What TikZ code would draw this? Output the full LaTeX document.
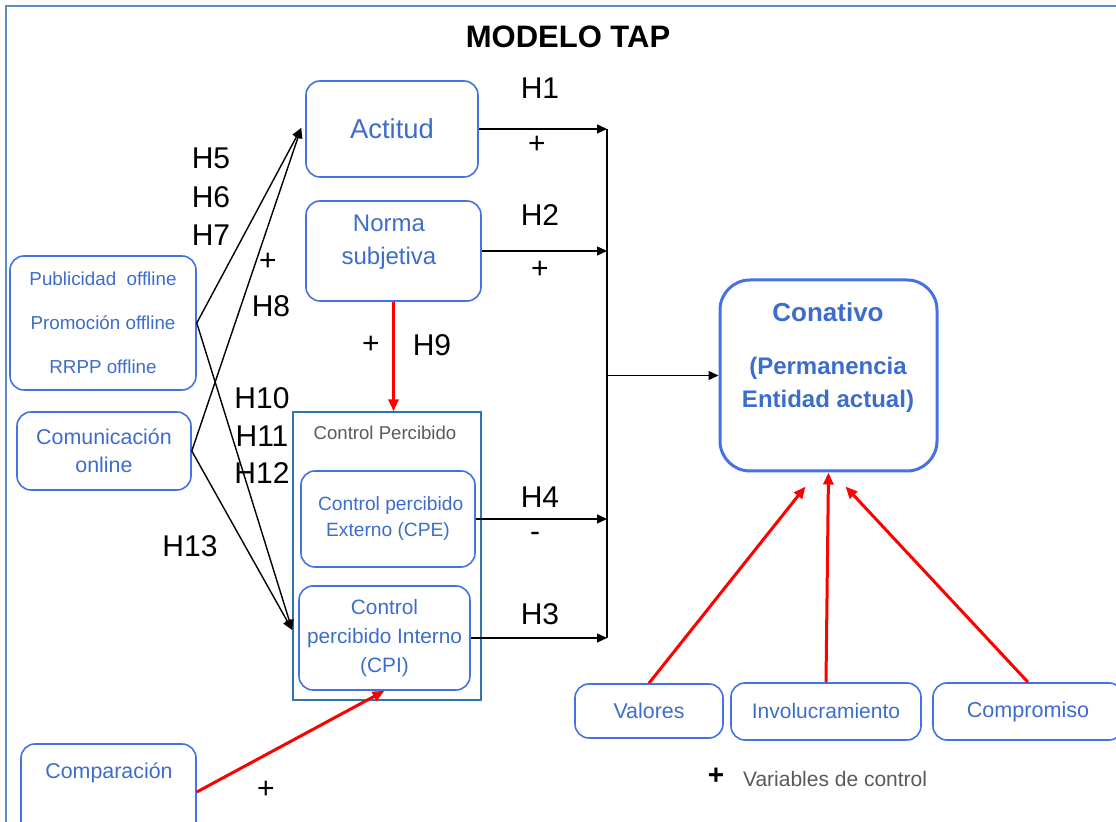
\documentclass[tikz,border=0pt]{standalone}
\usepackage{fontspec}
\setmainfont{Liberation Sans}
\usetikzlibrary{arrows.meta,calc,positioning}
\definecolor{boxblue}{RGB}{68,114,228}
\definecolor{textblue}{RGB}{60,108,205}
\definecolor{framecyan}{RGB}{46,117,182}
\definecolor{outerblue}{RGB}{94,140,198}
\definecolor{labelgray}{RGB}{89,89,89}
\definecolor{hypred}{RGB}{255,0,0}
\tikzset{
    % Construct boxes
    construct/.style={
        rectangle, draw=boxblue, line width=0.8pt,
        rounded corners=7pt, text=textblue, align=center, inner sep=0pt
    },
    outcome/.style={
        rectangle, draw=boxblue, line width=1.5pt,
        rounded corners=15pt, minimum width=108.5pt, minimum height=95.5pt
    },
    groupframe/.style={
        rectangle, draw=framecyan, line width=0.7pt,
        minimum width=94pt, minimum height=144pt
    },
    % Hypothesis arrows
    hyp/.style={-{Triangle[length=5pt,width=4.5pt]}, line width=0.7pt},
    redhyp/.style={-{Triangle[length=6pt,width=5pt]}, draw=hypred, line width=1.5pt},
    hlabel/.style={font=\fontsize{15}{18}\selectfont},
    sign/.style={font=\fontsize{15}{18}\selectfont}
}
\begin{document}
\begin{tikzpicture}[x=0.5pt,y=-0.5pt]
\useasboundingbox (0,0) rectangle (1116,822);

% Outer frame
\draw[outerblue, line width=0.8pt] (6,840) -- (6,6) -- (1130,6);
\node[font=\fontsize{15.5}{18}\selectfont\bfseries] (title) at (568,37) {MODELO TAP};

% TAP constructs
\node[construct, minimum width=86pt, minimum height=48pt, font=\fontsize{13.7}{17}\selectfont] (act) at (392,129) {Actitud};
\node[construct, minimum width=87.5pt, minimum height=50pt] (nor) at (393.5,251) {};
\node[text=textblue, align=center, font=\fontsize{12}{16.5}\selectfont] (nortxt) at (389,242.5) {Norma\\subjetiva};

% Antecedents
\node[construct, minimum width=93pt, minimum height=67pt, font=\fontsize{9.4}{22}\selectfont] (pub) at (103,323) {Publicidad\ \ offline\\Promoción offline\\RRPP offline};
\node[construct, minimum width=87pt, minimum height=39pt, font=\fontsize{10.7}{14}\selectfont] (com) at (104,451) {Comunicación\\online};
\node[construct, minimum width=87.5pt, minimum height=48pt] (cmp) at (108.5,792) {};
\node[text=textblue, font=\fontsize{10.7}{14}\selectfont] (cmptxt) at (109,773) {Comparación};

% Perceived control group
\node[groupframe] (ctrl) at (387,556) {};
\node[text=labelgray, font=\fontsize{9.3}{11}\selectfont] (ctrltxt) at (385,433) {Control Percibido};
\node[construct, minimum width=87pt, minimum height=48pt, font=\fontsize{9.6}{13}\selectfont] (cpe) at (388,519) {\ Control percibido\\Externo (CPE)};
\node[construct, minimum width=85.5pt, minimum height=52pt, font=\fontsize{10.4}{14.5}\selectfont] (cpi) at (384.5,638) {Control\\percibido Interno\\(CPI)};

% Outcome
\node[outcome] (con) at (828.5,375.5) {};
\node[text=textblue, align=center, font=\fontsize{12}{16.5}\selectfont\bfseries] (contxt) at (828,358) {{\fontsize{13}{15}\selectfont Conativo}\\[10pt](Permanencia\\Entidad actual)};

% Control variables
\node[construct, minimum width=74pt, minimum height=27pt, font=\fontsize{10.7}{12}\selectfont] (val) at (649,711) {Valores};
\node[construct, minimum width=95pt, minimum height=28.5pt, font=\fontsize{10.5}{12}\selectfont] (inv) at (826,711.5) {Involucramiento};
\node[construct, minimum width=95pt, minimum height=28.5pt, font=\fontsize{10.8}{12}\selectfont] (cmpr) at (1028,711.5) {Compromiso};
\node[font=\fontsize{14}{15}\selectfont\bfseries] (ctrlplus) at (716,776) {+};
\node[anchor=west, text=labelgray, font=\fontsize{10.5}{12}\selectfont] (ctrlvars) at (736,779) {Variables de control};

% Collector line
\coordinate (bus) at (607,129);
\draw[line width=0.7pt] (act.east -| bus) -- (cpi.east -| bus);
\draw[hyp] (act.east) -- (act.east -| bus);
\draw[hyp] (nor.east) -- (nor.east -| bus);
\draw[hyp] (cpe.east) -- (cpe.east -| bus);
\draw[hyp] (cpi.east) -- (cpi.east -| bus);
\draw[hyp] (bus |- con.west) -- (con.west);

% Antecedent arrows
\draw[hyp] (pub.east) -- ($(act.west)+(-4,-1)$);
\draw[hyp] (com.east) -- ($(act.west)+(-4,-1)$);
\draw[hyp] (pub.east) -- ($(cpi.west)+(-6,-8)$);
\draw[hyp] (com.east) -- ($(cpi.west)+(-6,-8)$);

% Red arrows
\draw[redhyp] (nor.south) -- (nor.south |- ctrl.north);
\draw[redhyp] (cmp.east) -- (cpi.south);
\draw[redhyp] (val.north) -- ($(con.south)+(-23,14)$);
\draw[redhyp] (inv.north) -- (con.south);
\draw[redhyp] (cmpr.north) -- ($(con.south)+(17,14)$);

% Hypothesis labels
\node[hlabel] (h1) at (540,88) {H1};
\node[sign] (s1) at (537,145) {+};
\node[hlabel] (h2) at (540,215) {H2};
\node[sign] (s2) at (540,270) {+};
\node[hlabel] (h4) at (540,497) {H4};
\node[sign] (s4) at (535,537) {-};
\node[hlabel] (h3) at (540,614) {H3};
\node[hlabel] (h5) at (211,158) {H5};
\node[hlabel] (h6) at (211,197) {H6};
\node[hlabel] (h7) at (211,235) {H7};
\node[sign] (s8) at (268,262) {+};
\node[hlabel] (h8) at (271,306) {H8};
\node[sign] (s9) at (371,345) {+};
\node[hlabel] (h9) at (432,345) {H9};
\node[hlabel] (h10) at (262,398) {H10};
\node[hlabel] (h11) at (262,436) {H11};
\node[hlabel] (h12) at (262,473) {H12};
\node[hlabel] (h13) at (190,546) {H13};
\node[sign] (s13) at (266,790) {+};

\end{tikzpicture}
\end{document}
